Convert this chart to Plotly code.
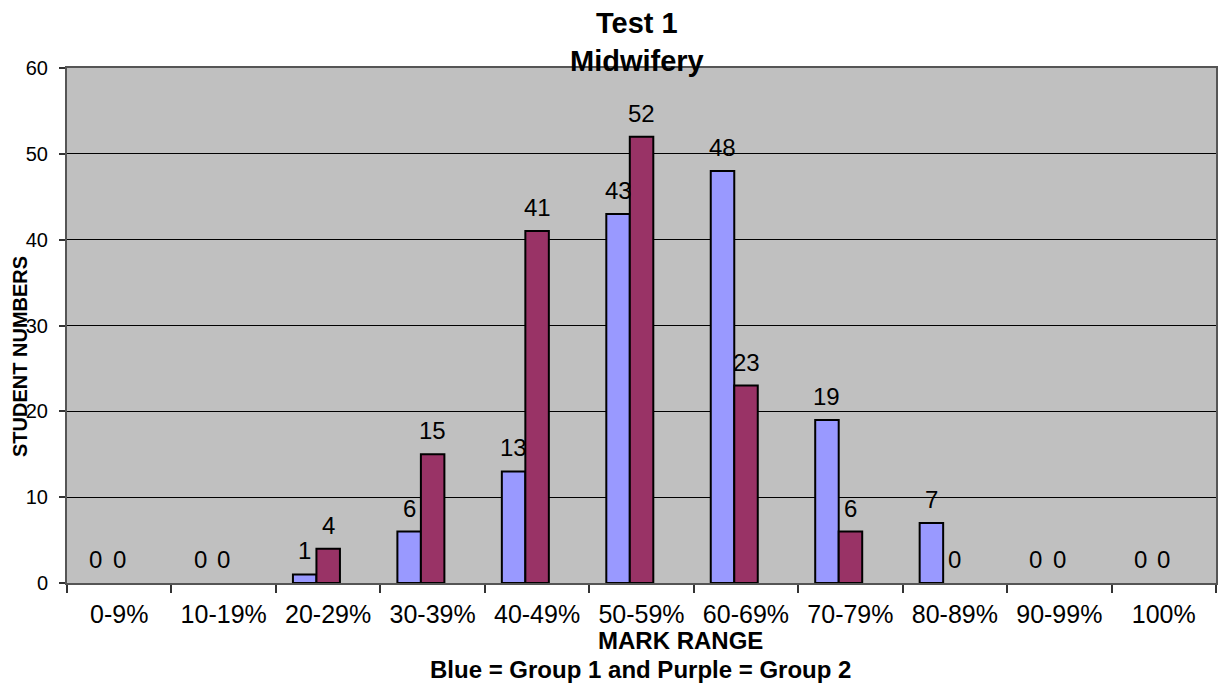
import plotly.graph_objects as go

categories = ["0-9%", "10-19%", "20-29%", "30-39%", "40-49%", "50-59%",
              "60-69%", "70-79%", "80-89%", "90-99%", "100%"]
group1 = [0, 0, 1, 6, 13, 43, 48, 19, 7, 0, 0]
group2 = [0, 0, 4, 15, 41, 52, 23, 6, 0, 0, 0]

y_ticks = [0, 10, 20, 30, 40, 50, 60]

FONT = "Liberation Sans, Arial, sans-serif"
BAR_W = 0.225
W, H = 1218, 684
ML, MR, MT, MB = 67, 2, 68, 101
PW = W - ML - MR
PH = H - MT - MB
CAT_PX = PW / len(categories)

series = [
    (group1, "Group 1", "#9999FF", -0.337),
    (group2, "Group 2", "#993366", -0.112),
]

fig = go.Figure()
annotations = []
for vals, name, color, off in series:
    fig.add_trace(go.Bar(
        x=categories, y=vals, name=name,
        marker=dict(color=color,
                    line=dict(color="black", width=[2 if v else 0 for v in vals])),
        width=BAR_W, offset=off, showlegend=False,
    ))
    shift = (off + BAR_W / 2) * CAT_PX
    for c, v in zip(categories, vals):
        annotations.append(dict(
            x=c, y=v, xref="x", yref="y", text=str(v), showarrow=False,
            xanchor="center", yanchor="bottom", xshift=shift, yshift=8,
            font=dict(family=FONT, size=24, color="black"),
        ))

# titles
annotations.append(dict(
    x=(637 - ML) / PW, y=1 + (MT - 42) / PH, xref="paper", yref="paper",
    text="<b>Test 1<br>Midwifery</b>", showarrow=False,
    xanchor="center", yanchor="middle",
    font=dict(family=FONT, size=29, color="black"),
))
annotations.append(dict(
    x=(680 - ML) / PW, y=-(640 - (MT + PH)) / PH, xref="paper", yref="paper",
    text="<b>MARK RANGE</b>", showarrow=False,
    xanchor="center", yanchor="middle",
    font=dict(family=FONT, size=24, color="black"),
))
annotations.append(dict(
    x=(640 - ML) / PW, y=-(669 - (MT + PH)) / PH, xref="paper", yref="paper",
    text="<b>Blue = Group 1 and Purple = Group 2</b>", showarrow=False,
    xanchor="center", yanchor="middle",
    font=dict(family=FONT, size=24, color="black"),
))
annotations.append(dict(
    x=(20 - ML) / PW, y=(MT + PH - 357) / PH, xref="paper", yref="paper",
    text="<b>STUDENT NUMBERS</b>", showarrow=False, textangle=-90,
    xanchor="center", yanchor="middle",
    font=dict(family=FONT, size=20, color="black"),
))

fig.update_layout(
    width=W, height=H, autosize=False,
    margin=dict(l=ML, r=MR, t=MT, b=MB, pad=0, autoexpand=False),
    paper_bgcolor="white", plot_bgcolor="#C0C0C0",
    font=dict(family=FONT, color="black"),
    annotations=annotations,
    barmode="group",
)
fig.update_xaxes(
    type="category", range=[-0.5, len(categories) - 0.5], automargin=False,
    tickson="boundaries", ticks="outside", ticklen=8, tickwidth=1.5,
    tickcolor="#333333", showgrid=False,
    showline=True, linecolor="#555555", linewidth=2, mirror=True,
    tickfont=dict(family=FONT, size=25, color="black"),
    ticklabelstandoff=8,
)
fig.update_yaxes(
    range=[0, 60], tickvals=y_ticks, ticks="outside", ticklen=6, tickwidth=1.5,
    tickcolor="#333333", showgrid=True, gridcolor="black", gridwidth=1,
    showline=True, linecolor="#555555", linewidth=2, mirror=True,
    zeroline=False, automargin=False,
    tickfont=dict(family=FONT, size=20, color="black"),
    ticklabelstandoff=7,
)

fig.write_html(
    "out.html",
    config={"displayModeBar": False},
    post_script="document.body.style.margin='0';document.body.style.overflow='hidden';",
)
